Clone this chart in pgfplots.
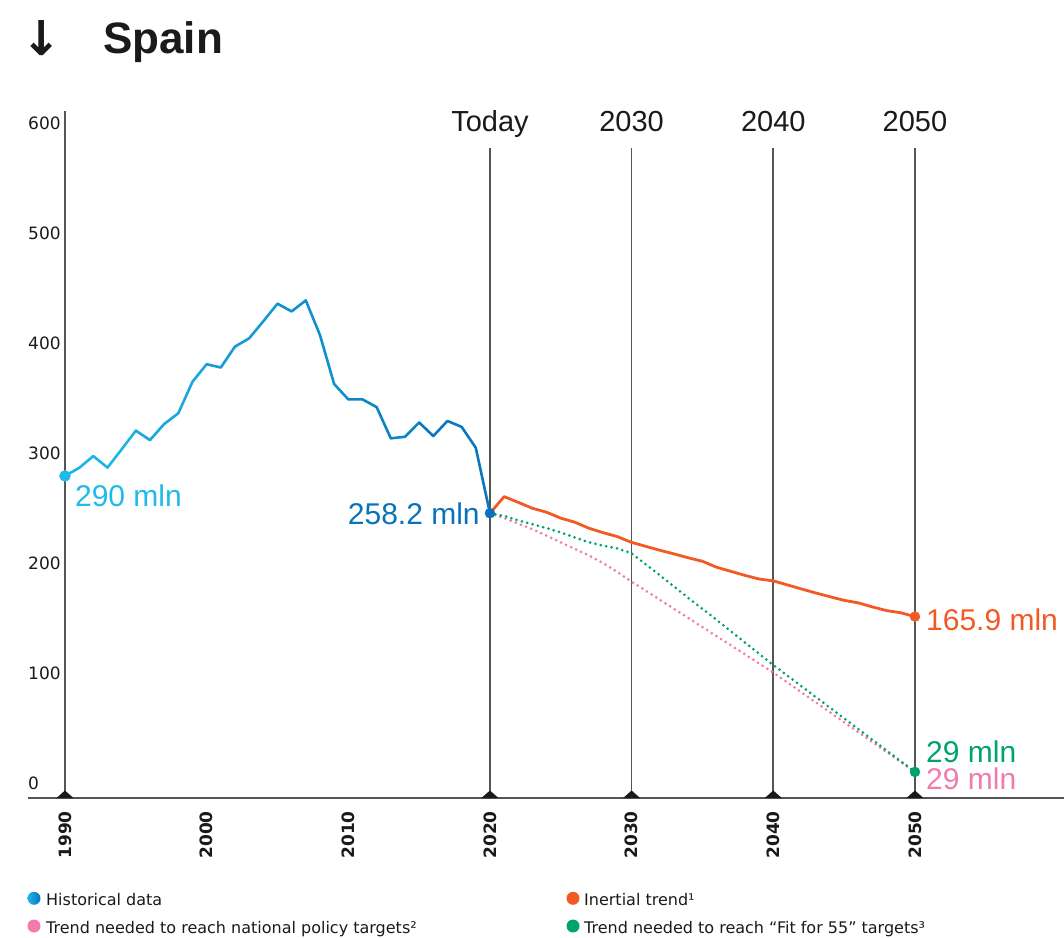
\documentclass[border=0pt]{standalone}
\usepackage{pgfplots}
\usepackage{pgfplotstable}
\pgfplotsset{compat=1.18}
\usepackage{fontspec}
\setmainfont{Liberation Sans}
\newfontfamily\dv{DejaVu Sans}
\definecolor{hcyan}{RGB}{30,186,232}
\definecolor{hblue}{RGB}{8,114,188}
\definecolor{iorange}{RGB}{241,90,36}
\definecolor{fgreen}{RGB}{0,163,108}
\definecolor{npink}{RGB}{241,123,172}
\definecolor{vgray}{RGB}{85,85,85}
\definecolor{txt}{RGB}{26,26,26}
\colorlet{h1}{hblue!8!hcyan}
\colorlet{h2}{hblue!25!hcyan}
\colorlet{h3}{hblue!42!hcyan}
\colorlet{h4}{hblue!58!hcyan}
\colorlet{h5}{hblue!75!hcyan}
\colorlet{h6}{hblue!92!hcyan}
\pgfdeclareplotmark{flattri}{%
  \pgfpathmoveto{\pgfqpoint{-8.5pt}{0pt}}%
  \pgfpathlineto{\pgfqpoint{8.5pt}{0pt}}%
  \pgfpathlineto{\pgfqpoint{0pt}{7.5pt}}%
  \pgfpathclose\pgfusepathqfill}

\pgfplotstableread{
year val
1990 279.4
1991 286.7
1992 297.5
1993 287.0
1994 303.6
1995 320.6
1996 312.0
1997 326.6
1998 336.4
1999 365.0
2000 381.0
2001 378.0
2002 397.0
2003 404.5
2004 420.0
2005 436.0
2006 429.0
2007 439.0
2008 407.5
2009 363.0
2010 349.0
2011 349.0
2012 342.0
2013 313.6
2014 315.0
2015 328.0
2016 315.7
2017 329.4
2018 324.0
2019 305.0
2020 245.5
}\hist

\pgfplotstableread{
year val
2020 245.5
2021 260.6
2022 255.4
2023 250.0
2024 246.4
2025 241.0
2026 237.3
2027 231.8
2028 227.8
2029 224.2
2030 219.0
2031 215.4
2032 211.8
2033 208.5
2034 205.0
2035 201.8
2036 196.4
2037 192.7
2038 189.0
2039 185.7
2040 184.0
2041 180.3
2042 176.6
2043 173.0
2044 169.6
2045 166.3
2046 164.0
2047 160.3
2048 157.0
2049 155.0
2050 151.5
}\inertial

\pgfplotstableread{
year val
2020 245.5
2021 243.0
2022 239.0
2023 235.5
2024 232.0
2025 228.0
2026 223.5
2027 219.0
2028 216.0
2029 213.5
2030 209.0
2032 189.0
2034 168.5
2036 148.5
2038 128.0
2040 107.5
2045 59.0
2050 10.3
}\fitfiftyfive

\pgfplotstableread{
year val
2020 245.5
2021 241.0
2022 236.0
2023 231.0
2024 225.0
2025 219.0
2026 213.0
2027 207.0
2028 200.0
2029 192.0
2030 183.3
2035 142.0
2040 100.6
2045 55.5
2050 10.3
}\national

\begin{document}
\begin{tikzpicture}
\useasboundingbox (0,0) rectangle (1064pt,937pt);
% header
\node[anchor=center, inner sep=0pt, text=txt] at (42pt,899pt) {\dv\bfseries\fontsize{48}{48}\selectfont ↓};
\node[anchor=base west, inner sep=0pt, text=txt] at (103pt,883pt) {\bfseries\fontsize{44}{44}\selectfont Spain};
\begin{axis}[
  at={(28pt,139pt)}, anchor=south west,
  scale only axis, width=1036pt, height=698pt,
  xmin=1987.39, xmax=2060.52, ymin=-13.4, ymax=621.2,
  clip=false,
  axis line style={draw=none},
  major tick length=0pt, tick style={draw=none},
  /pgf/number format/assume math mode=true,
  xtick={1990,2000,2010,2020,2030,2040,2050},
  ytick={0,100,200,300,400,500,600},
  xticklabel shift=13pt,
  xticklabel style={font=\dv\bfseries\fontsize{17}{17}\selectfont, rotate=90, anchor=east, inner sep=0pt, text=txt},
  yticklabel style={font=\dv\fontsize{17}{17}\selectfont, anchor=west, inner sep=0pt, text=txt},
  scaled ticks=false,
  xticklabel={\pgfmathprintnumber[1000 sep={},assume math mode=true]{\tick}},
  yticklabel={\pgfmathprintnumber[assume math mode=true]{\tick}},
]
% vertical reference lines
\draw[vgray, line width=1.6pt] (axis cs:1990,-13.4) -- (axis cs:1990,611);
\draw[vgray, line width=1.6pt] (axis cs:2020,-13.4) -- (axis cs:2020,577.5);
\draw[vgray, line width=1.6pt] (axis cs:2030,-13.4) -- (axis cs:2030,577.5);
\draw[vgray, line width=1.6pt] (axis cs:2040,-13.4) -- (axis cs:2040,577.5);
\draw[vgray, line width=1.6pt] (axis cs:2050,-13.4) -- (axis cs:2050,577.5);
\draw[vgray, line width=1.6pt] (axis cs:1987.39,-13.4) -- (axis cs:2060.52,-13.4);
% column headers
\node[anchor=base, inner sep=0pt, text=txt, font=\fontsize{29}{29}\selectfont] at (axis cs:2020,593) {Today};
\node[anchor=base, inner sep=0pt, text=txt, font=\fontsize{29}{29}\selectfont] at (axis cs:2030,593) {2030};
\node[anchor=base, inner sep=0pt, text=txt, font=\fontsize{29}{29}\selectfont] at (axis cs:2040,593) {2040};
\node[anchor=base, inner sep=0pt, text=txt, font=\fontsize{29}{29}\selectfont] at (axis cs:2050,593) {2050};
% scenario lines
\addplot[npink, line width=3pt, dash pattern=on 0pt off 5.5pt, line cap=round] table[x=year,y=val]{\national};
\addplot[fgreen, line width=3pt, dash pattern=on 0pt off 5.5pt, line cap=round] table[x=year,y=val]{\fitfiftyfive};
\addplot[iorange, line width=2.8pt, line join=round] table[x=year,y=val]{\inertial};
% historical with colour gradient
\addplot[h1, line width=2.6pt, line join=round, line cap=round, restrict x to domain=1990:1995] table[x=year,y=val]{\hist};
\addplot[h2, line width=2.6pt, line join=round, line cap=round, restrict x to domain=1995:2000] table[x=year,y=val]{\hist};
\addplot[h3, line width=2.6pt, line join=round, line cap=round, restrict x to domain=2000:2005] table[x=year,y=val]{\hist};
\addplot[h4, line width=2.6pt, line join=round, line cap=round, restrict x to domain=2005:2010] table[x=year,y=val]{\hist};
\addplot[h5, line width=2.6pt, line join=round, line cap=round, restrict x to domain=2010:2015] table[x=year,y=val]{\hist};
\addplot[h6, line width=2.6pt, line join=round, line cap=round, restrict x to domain=2015:2020] table[x=year,y=val]{\hist};
% end points
\addplot[only marks, mark=*, mark size=5.5pt, color=hcyan] coordinates {(1990,279.4)};
\addplot[only marks, mark=*, mark size=5pt, color=hblue] coordinates {(2020,245.5)};
\addplot[only marks, mark=*, mark size=5pt, color=iorange] coordinates {(2050,151.5)};
\addplot[only marks, mark=*, mark size=5pt, color=fgreen] coordinates {(2050,10.3)};
% triangles on the baseline
\addplot[only marks, mark=flattri, color=txt] coordinates {(1990,-13.4) (2020,-13.4) (2030,-13.4) (2040,-13.4) (2050,-13.4)};
% value labels
\node[anchor=base west, inner sep=0pt, text=hcyan, font=\fontsize{30}{30}\selectfont] at (axis cs:1990.7,251.2) {290 mln};
\node[anchor=base east, inner sep=0pt, text=hblue, font=\fontsize{30}{30}\selectfont] at (axis cs:2019.29,235.7) {258.2 mln};
\node[anchor=base west, inner sep=0pt, text=iorange, font=\fontsize{30}{30}\selectfont] at (axis cs:2050.78,138.5) {165.9 mln};
\node[anchor=base west, inner sep=0pt, text=fgreen, font=\fontsize{30}{30}\selectfont] at (axis cs:2050.78,18.5) {29 mln};
\node[anchor=base west, inner sep=0pt, text=npink, font=\fontsize{30}{30}\selectfont] at (axis cs:2050.78,-6.1) {29 mln};
\end{axis}
% legend
\shade[left color=hcyan, right color=hblue] (34pt,38.7pt) circle (6.5pt);
\node[anchor=base west, inner sep=0pt, text=txt, font=\dv\fontsize{16}{16}\selectfont] at (46pt,32pt) {Historical data};
\fill[npink] (34pt,11pt) circle (6.5pt);
\node[anchor=base west, inner sep=0pt, text=txt, font=\dv\fontsize{16}{16}\selectfont] at (46pt,3.7pt) {Trend needed to reach national policy targets²};
\fill[iorange] (573pt,38.7pt) circle (6.5pt);
\node[anchor=base west, inner sep=0pt, text=txt, font=\dv\fontsize{16}{16}\selectfont] at (584pt,32pt) {Inertial trend¹};
\fill[fgreen] (573pt,11pt) circle (6.5pt);
\node[anchor=base west, inner sep=0pt, text=txt, font=\dv\fontsize{16}{16}\selectfont] at (584pt,3.7pt) {Trend needed to reach “Fit for 55” targets³};
\end{tikzpicture}
\end{document}
